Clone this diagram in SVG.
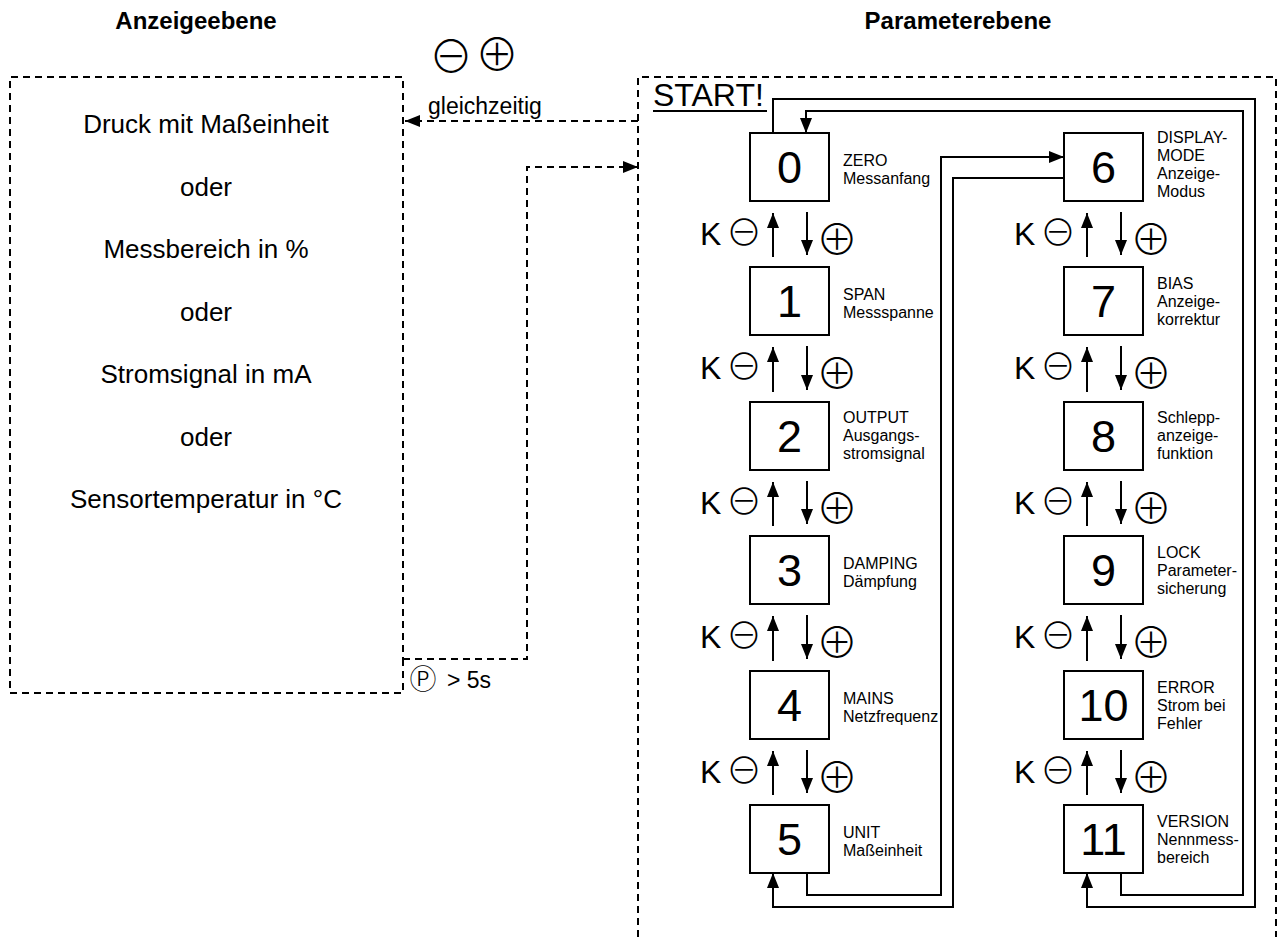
<svg xmlns="http://www.w3.org/2000/svg" width="1281" height="937" viewBox="0 0 1281 937">
<defs>
<style>
text{font-family:"Liberation Sans",Arial,sans-serif;fill:#000}
.hdr{font-size:24px;font-weight:bold;text-anchor:middle}
.big{font-size:26px;text-anchor:middle}
.mid{font-size:23px}
.dig{font-size:45px;text-anchor:middle}
.lbl{font-size:16px}
.k{font-size:32px}
.sym{font-family:"DejaVu Sans","Noto Sans CJK JP",sans-serif;font-weight:200;text-anchor:middle}
.m{font-size:36px}
.p{font-size:42px}
.symb{font-size:44px}
.box{fill:#fff;stroke:#000;stroke-width:2}
.dash{fill:none;stroke:#000;stroke-width:2;stroke-dasharray:7 5}
.ln{fill:none;stroke:#000;stroke-width:2}
</style>
<marker id="ah" markerWidth="15" markerHeight="12" refX="15" refY="6" orient="auto" markerUnits="userSpaceOnUse"><path d="M0,0L15,6L0,12z" fill="#000"/></marker>
</defs>
<rect width="1281" height="937" fill="#fff"/>

<g id="headers">
<text class="hdr" x="196" y="29">Anzeigeebene</text>
<text class="hdr" x="958" y="29">Parameterebene</text>
</g>

<g id="anzeigeebene">
<path class="dash" d="M403,659V693H10V77H403V659"/>
<text class="big" x="206" y="133">Druck mit Maßeinheit</text>
<text class="big" x="206" y="196">oder</text>
<text class="big" x="206" y="258">Messbereich in %</text>
<text class="big" x="206" y="321">oder</text>
<text class="big" x="206" y="383">Stromsignal in mA</text>
<text class="big" x="206" y="446">oder</text>
<text class="big" x="206" y="508">Sensortemperatur in °C</text>
</g>

<g id="parameterebene">
<path class="dash" d="M638,937V77H1276V937"/>
<text x="653" y="106" style="font-size:32px">START!</text>
<line x1="653" y1="111" x2="767" y2="111" stroke="#000" stroke-width="2"/>
</g>

<g id="connectors">
<path class="dash" d="M638,121H405" marker-end="url(#ah)"/>
<path class="dash" d="M403,659H527V167H638" marker-end="url(#ah)"/>
<path class="ln" d="M773,133V99H1255V907H1087V873" marker-end="url(#ah)"/>
<path class="ln" d="M1121,873V895H1243V111H806V133" marker-end="url(#ah)"/>
<path class="ln" d="M807,873V895H941V157H1064" marker-end="url(#ah)"/>
<path class="ln" d="M1064,178H953V907H773V873" marker-end="url(#ah)"/>
<g id="step-arrows">
<path class="ln" d="M773,257V213" marker-end="url(#ah)"/><path class="ln" d="M807,212V255" marker-end="url(#ah)"/>
<path class="ln" d="M773,392V347" marker-end="url(#ah)"/><path class="ln" d="M807,346V390" marker-end="url(#ah)"/>
<path class="ln" d="M773,526V482" marker-end="url(#ah)"/><path class="ln" d="M807,481V524" marker-end="url(#ah)"/>
<path class="ln" d="M773,661V616" marker-end="url(#ah)"/><path class="ln" d="M807,615V659" marker-end="url(#ah)"/>
<path class="ln" d="M773,795V751" marker-end="url(#ah)"/><path class="ln" d="M807,750V793" marker-end="url(#ah)"/>
<path class="ln" d="M1087,257V213" marker-end="url(#ah)"/><path class="ln" d="M1121,212V255" marker-end="url(#ah)"/>
<path class="ln" d="M1087,392V347" marker-end="url(#ah)"/><path class="ln" d="M1121,346V390" marker-end="url(#ah)"/>
<path class="ln" d="M1087,526V482" marker-end="url(#ah)"/><path class="ln" d="M1121,481V524" marker-end="url(#ah)"/>
<path class="ln" d="M1087,661V616" marker-end="url(#ah)"/><path class="ln" d="M1121,615V659" marker-end="url(#ah)"/>
<path class="ln" d="M1087,795V751" marker-end="url(#ah)"/><path class="ln" d="M1121,750V793" marker-end="url(#ah)"/>
</g>
</g>

<g id="connector-labels">
<text class="sym symb" x="451" y="73">⊖</text>
<text class="sym symb" x="497" y="71">⊕</text>
<text class="mid" x="428" y="114">gleichzeitig</text>
<text class="sym" x="423" y="689" style="font-size:27px">Ⓟ</text>
<text class="mid" x="447" y="688">&gt; 5s</text>
<g id="key-labels">
<text class="k" x="700" y="245">K</text><text class="sym m" x="744" y="246">⊖</text><text class="sym p" x="837" y="255">⊕</text>
<text class="k" x="700" y="379">K</text><text class="sym m" x="744" y="380">⊖</text><text class="sym p" x="837" y="389">⊕</text>
<text class="k" x="700" y="514">K</text><text class="sym m" x="744" y="515">⊖</text><text class="sym p" x="837" y="524">⊕</text>
<text class="k" x="700" y="648">K</text><text class="sym m" x="744" y="649">⊖</text><text class="sym p" x="837" y="658">⊕</text>
<text class="k" x="700" y="783">K</text><text class="sym m" x="744" y="784">⊖</text><text class="sym p" x="837" y="793">⊕</text>
<text class="k" x="1014" y="245">K</text><text class="sym m" x="1058" y="246">⊖</text><text class="sym p" x="1151" y="255">⊕</text>
<text class="k" x="1014" y="379">K</text><text class="sym m" x="1058" y="380">⊖</text><text class="sym p" x="1151" y="389">⊕</text>
<text class="k" x="1014" y="514">K</text><text class="sym m" x="1058" y="515">⊖</text><text class="sym p" x="1151" y="524">⊕</text>
<text class="k" x="1014" y="648">K</text><text class="sym m" x="1058" y="649">⊖</text><text class="sym p" x="1151" y="658">⊕</text>
<text class="k" x="1014" y="783">K</text><text class="sym m" x="1058" y="784">⊖</text><text class="sym p" x="1151" y="793">⊕</text>
</g>
</g>

<g id="node-0"><rect class="box" x="750" y="133" width="79" height="68"/><text class="dig" x="789.5" y="183">0</text>
<text class="lbl"><tspan x="843" y="166">ZERO</tspan><tspan x="843" y="184">Messanfang</tspan></text></g>
<g id="node-1"><rect class="box" x="750" y="267" width="79" height="68"/><text class="dig" x="789.5" y="317">1</text>
<text class="lbl"><tspan x="843" y="300">SPAN</tspan><tspan x="843" y="318">Messspanne</tspan></text></g>
<g id="node-2"><rect class="box" x="750" y="402" width="79" height="68"/><text class="dig" x="789.5" y="452">2</text>
<text class="lbl"><tspan x="843" y="423">OUTPUT</tspan><tspan x="843" y="441">Ausgangs-</tspan><tspan x="843" y="459">stromsignal</tspan></text></g>
<g id="node-3"><rect class="box" x="750" y="536" width="79" height="68"/><text class="dig" x="789.5" y="586">3</text>
<text class="lbl"><tspan x="843" y="569">DAMPING</tspan><tspan x="843" y="587">Dämpfung</tspan></text></g>
<g id="node-4"><rect class="box" x="750" y="671" width="79" height="68"/><text class="dig" x="789.5" y="721">4</text>
<text class="lbl"><tspan x="843" y="704">MAINS</tspan><tspan x="843" y="722">Netzfrequenz</tspan></text></g>
<g id="node-5"><rect class="box" x="750" y="805" width="79" height="68"/><text class="dig" x="789.5" y="855">5</text>
<text class="lbl"><tspan x="843" y="838">UNIT</tspan><tspan x="843" y="856">Maßeinheit</tspan></text></g>

<g id="node-6"><rect class="box" x="1064" y="133" width="79" height="68"/><text class="dig" x="1103.5" y="183">6</text>
<text class="lbl"><tspan x="1157" y="143">DISPLAY-</tspan><tspan x="1157" y="161">MODE</tspan><tspan x="1157" y="179">Anzeige-</tspan><tspan x="1157" y="197">Modus</tspan></text></g>
<g id="node-7"><rect class="box" x="1064" y="267" width="79" height="68"/><text class="dig" x="1103.5" y="317">7</text>
<text class="lbl"><tspan x="1157" y="289">BIAS</tspan><tspan x="1157" y="307">Anzeige-</tspan><tspan x="1157" y="325">korrektur</tspan></text></g>
<g id="node-8"><rect class="box" x="1064" y="402" width="79" height="68"/><text class="dig" x="1103.5" y="452">8</text>
<text class="lbl"><tspan x="1157" y="423">Schlepp-</tspan><tspan x="1157" y="441">anzeige-</tspan><tspan x="1157" y="459">funktion</tspan></text></g>
<g id="node-9"><rect class="box" x="1064" y="536" width="79" height="68"/><text class="dig" x="1103.5" y="586">9</text>
<text class="lbl"><tspan x="1157" y="558">LOCK</tspan><tspan x="1157" y="576">Parameter-</tspan><tspan x="1157" y="594">sicherung</tspan></text></g>
<g id="node-10"><rect class="box" x="1064" y="671" width="79" height="68"/><text class="dig" x="1103.5" y="721">10</text>
<text class="lbl"><tspan x="1157" y="693">ERROR</tspan><tspan x="1157" y="711">Strom bei</tspan><tspan x="1157" y="729">Fehler</tspan></text></g>
<g id="node-11"><rect class="box" x="1064" y="805" width="79" height="68"/><text class="dig" x="1103.5" y="855">11</text>
<text class="lbl"><tspan x="1157" y="827">VERSION</tspan><tspan x="1157" y="845">Nennmess-</tspan><tspan x="1157" y="863">bereich</tspan></text></g>
</svg>
